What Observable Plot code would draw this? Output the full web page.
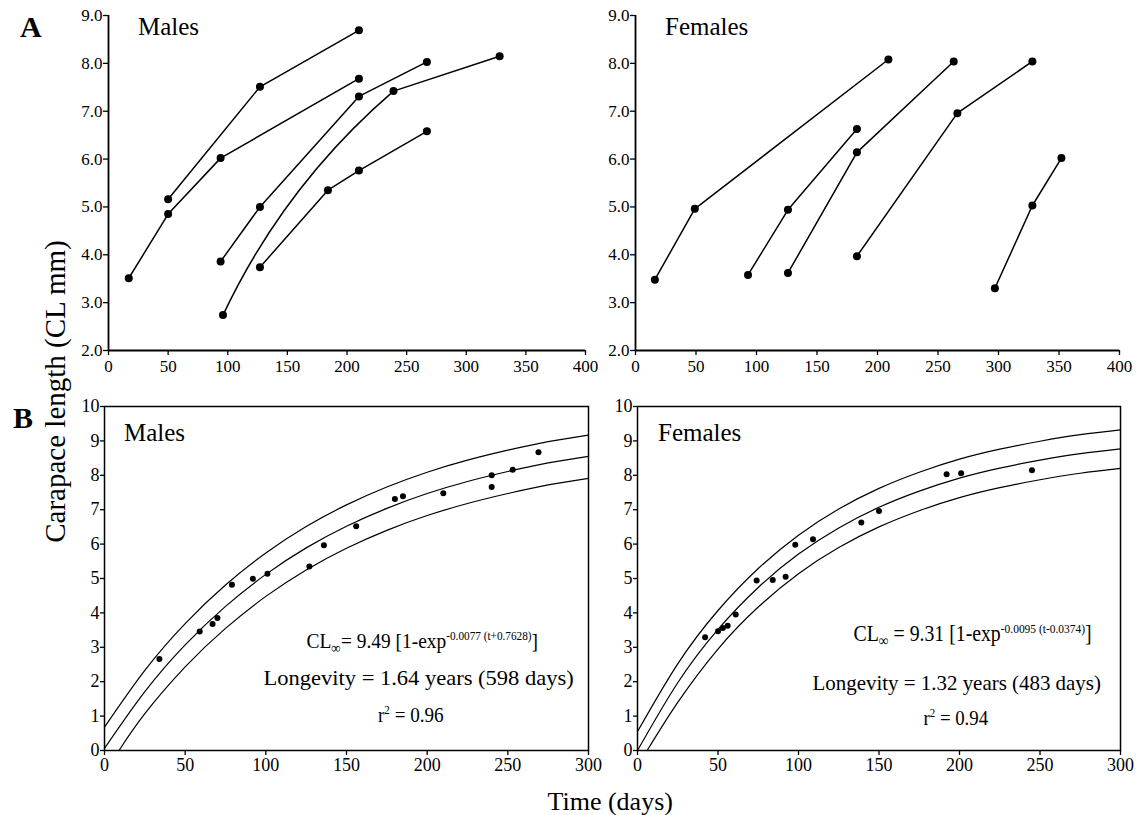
<!DOCTYPE html>
<html><head><meta charset="utf-8">
<script src="https://cdn.jsdelivr.net/npm/d3@7"></script>
<script src="https://cdn.jsdelivr.net/npm/@observablehq/plot@0.6"></script>
<style>
body{margin:0;background:#fff;}
#root{position:relative;width:1142px;height:815px;overflow:hidden;color:#000;background:#fff;}
.abs{position:absolute;white-space:nowrap;line-height:1;}
.abs sup{font-size:0.58em;vertical-align:0.62em;line-height:0;}
.abs sub{font-size:0.7em;vertical-align:-0.3em;line-height:0;}
svg{position:absolute;overflow:visible;}
</style></head><body><div id="root"></div>
<script>
// ---------- Panel A: males (tracks of individuals) ----------
const aMaleTrack = [1,1,1,1, 2,2,2, 3,3,3,3, 4,4,4, 5,5,5,5];
const aMaleDay   = [17,50,94,210, 50,127,210, 94,127,210,267, 96,239,328, 127,184,210,267];
const aMaleCL    = [3.51,4.85,6.02,7.68, 5.16,7.51,8.69, 3.86,5.00,7.31,8.03, 2.74,7.42,8.15, 3.74,5.35,5.76,6.58];
// ---------- Panel A: females ----------
const aFemaleTrack = [1,1,1, 2,2,2, 3,3,3, 4,4,4, 5,5,5];
const aFemaleDay   = [16,49,209, 93,126,183, 126,183,263, 183,266,328, 297,328,352];
const aFemaleCL    = [3.48,4.96,8.08, 3.58,4.94,6.63, 3.62,6.14,8.04, 3.97,6.96,8.04, 3.30,5.03,6.02];
const aXTicks = [0,50,100,150,200,250,300,350,400];
const aYTicks = [2,3,4,5,6,7,8,9];

// ---------- Panel B: males ----------
const bMaleDay = [34,59,67,70,79,92,101,127,136,156,180,185,210,240,240,253,269];
const bMaleCL  = [2.66,3.46,3.68,3.85,4.82,4.99,5.14,5.35,5.97,6.52,7.31,7.39,7.48,8.00,7.66,8.16,8.67];
const bCurveDay   = [0,25,50,75,100,125,150,175,200,225,250,275,300];
const bMaleFit    = [0.06,1.71,3.07,4.19,5.12,5.89,6.52,7.04,7.47,7.82,8.11,8.36,8.55];
const bMaleUpper  = [0.68,2.33,3.69,4.81,5.74,6.51,7.14,7.66,8.09,8.44,8.73,8.98,9.17];
const bMaleLowerDay = [9,25,50,75,100,125,150,175,200,225,250,275,300];
const bMaleLower  = [0,1.07,2.43,3.55,4.48,5.25,5.88,6.40,6.83,7.18,7.47,7.72,7.91];
// ---------- Panel B: females ----------
const bFemaleDay = [42,50,53,56,61,74,84,92,98,109,139,150,192,201,245];
const bFemaleCL  = [3.29,3.47,3.56,3.63,3.95,4.94,4.96,5.05,5.98,6.14,6.63,6.96,8.03,8.06,8.15];
const bFemaleFit   = [0,1.97,3.52,4.74,5.71,6.47,7.07,7.54,7.92,8.21,8.44,8.63,8.77];
const bFemaleUpper = [0.55,2.52,4.07,5.29,6.26,7.02,7.62,8.09,8.47,8.76,8.99,9.18,9.32];
const bFemaleLowerDay = [6,25,50,75,100,125,150,175,200,225,250,275,300];
const bFemaleLower = [0,1.40,2.95,4.17,5.14,5.90,6.50,6.97,7.35,7.64,7.87,8.06,8.20];
const bXTicks = [0,50,100,150,200,250,300];
const bYTicks = [0,1,2,3,4,5,6,7,8,9,10];

// ---------- pick an installed serif font ----------
function hasFont(name) {
  const c = document.createElement('canvas').getContext('2d');
  const s = 'mmmmmmmmmmlliWWwwQq0123456789';
  return ['monospace', 'sans-serif'].some(base => {
    c.font = '40px ' + base; const w0 = c.measureText(s).width;
    c.font = `40px "${name}", ${base}`; const w1 = c.measureText(s).width;
    return Math.abs(w0 - w1) > 0.5;
  });
}
const serifName = ["Liberation Serif", "Tinos", "Times New Roman", "Times", "Nimbus Roman", "DejaVu Serif", "Noto Serif"].find(hasFont);
const FONT = (serifName ? `"${serifName}", ` : "") + "serif";
const root = document.getElementById('root');
root.style.fontFamily = FONT;

const rows = (xs, ys, zs) => xs.map((x, i) => ({x, y: ys[i], z: zs ? zs[i] : 0}));

function panelA(track, day, cl, left, ml, w, mr, bentTrack) {
  const data = rows(day, cl, track);
  // a bent segment (drawn as a curved link) for the first step of one track
  const bentIdx = bentTrack ? track.indexOf(bentTrack) : -1;
  const bent = bentIdx >= 0 ? [{x1: day[bentIdx], y1: cl[bentIdx], x2: day[bentIdx + 1], y2: cl[bentIdx + 1]}] : [];
  const lineData = data.filter((d, i) => i !== bentIdx);
  const svg = Plot.plot({
    width: w, height: 400, marginLeft: ml, marginRight: mr, marginTop: 15, marginBottom: 50,
    style: {fontFamily: FONT, fontSize: "17px", color: "#000", background: "transparent", overflow: "visible"},
    x: {domain: [0, 400]},
    y: {domain: [2, 9]},
    marks: [
      Plot.axisX({ticks: aXTicks, tickSize: 5, tickPadding: 4, label: null, strokeWidth: 1.3}),
      Plot.axisY({ticks: aYTicks, tickSize: 5, tickPadding: 1, tickFormat: d3.format(".1f"), label: null, strokeWidth: 1.3}),
      Plot.ruleX([0], {strokeWidth: 1.8}),
      Plot.ruleY([2], {strokeWidth: 1.8}),
      Plot.line(lineData, {x: "x", y: "y", z: "z", stroke: "#000", strokeWidth: 1.5}),
      Plot.arrow(bent, {x1: "x1", y1: "y1", x2: "x2", y2: "y2", bend: 12, headLength: 0, stroke: "#000", strokeWidth: 1.5}),
      Plot.dot(data, {x: "x", y: "y", r: 4, fill: "#000", stroke: null})
    ]
  });
  svg.style.left = left + "px"; svg.style.top = "0px";
  root.appendChild(svg);
}

function panelB(day, cl, fit, upper, lowerDay, lower, left, ml, w, mr) {
  const svg = Plot.plot({
    width: w, height: 435, marginLeft: ml, marginRight: mr, marginTop: 26, marginBottom: 65,
    style: {fontFamily: FONT, fontSize: "18px", color: "#000", background: "transparent", overflow: "visible"},
    x: {domain: [0, 300]},
    y: {domain: [0, 10]},
    marks: [
      Plot.axisX({ticks: bXTicks, tickSize: 5, tickPadding: 3, label: null, strokeWidth: 1.3}),
      Plot.axisY({ticks: bYTicks, tickSize: 4, tickPadding: 1, label: null, strokeWidth: 1.3}),
      Plot.line(rows(bCurveDay, fit), {x: "x", y: "y", curve: "natural", stroke: "#000", strokeWidth: 1.2}),
      Plot.line(rows(bCurveDay, upper), {x: "x", y: "y", curve: "natural", stroke: "#000", strokeWidth: 1.2}),
      Plot.line(rows(lowerDay, lower), {x: "x", y: "y", curve: "natural", stroke: "#000", strokeWidth: 1.2}),
      Plot.dot(rows(day, cl), {x: "x", y: "y", r: 3, fill: "#000", stroke: null}),
      Plot.frame({stroke: "#000", strokeWidth: 1.5})
    ]
  });
  svg.style.left = left + "px"; svg.style.top = "380px";
  root.appendChild(svg);
}

panelA(aMaleTrack, aMaleDay, aMaleCL, 0, 108, 600, 15, 4);
panelA(aFemaleTrack, aFemaleDay, aFemaleCL, 560, 75, 582, 23, null);
panelB(bMaleDay, bMaleCL, bMaleFit, bMaleUpper, bMaleLowerDay, bMaleLower, 0, 104, 610, 22);
panelB(bFemaleDay, bFemaleCL, bFemaleFit, bFemaleUpper, bFemaleLowerDay, bFemaleLower, 560, 77, 582, 22);

// ---------- text ----------
function place(html, x, cy, size, o = {}) {
  const d = document.createElement('div');
  d.className = 'abs';
  d.innerHTML = html;
  d.style.fontSize = size + 'px';
  if (o.bold) d.style.fontWeight = 'bold';
  root.appendChild(d);
  const w = d.offsetWidth, h = d.offsetHeight;
  const left = o.anchor === 'start' ? x : x - w / 2;
  d.style.left = left + 'px';
  d.style.top = (cy - h / 2) + 'px';
  let t = '';
  if (o.width) { t += `scaleX(${o.width / w})`; d.style.transformOrigin = 'center'; }
  if (o.rotate) { t += ` rotate(${o.rotate}deg)`; }
  if (t) d.style.transform = t;
  return d;
}
place('A', 31, 27, 30, {bold: true});
place('B', 23, 418, 30, {bold: true});
place('Males', 138, 26, 25, {anchor: 'start'});
place('Females', 665, 26, 25, {anchor: 'start'});
place('Males', 124, 432, 25, {anchor: 'start'});
place('Females', 658, 432, 25, {anchor: 'start'});
place('Carapace length (CL mm)', 55, 391, 29, {rotate: -90});
place('Time (days)', 610, 802, 26);

place('CL<sub>∞</sub>= 9.49 [1-exp<sup>-0.0077 (t+0.7628)</sup>]', 422, 641, 22, {width: 232});
place('Longevity = 1.64 years (598 days)', 418, 678, 22, {width: 310});
place('r<sup>2</sup> = 0.96', 411, 715, 22, {width: 66});

place('CL<sub>∞</sub> = 9.31 [1-exp<sup>-0.0095 (t-0.0374)</sup>]', 972, 633, 23, {width: 238});
place('Longevity = 1.32 years (483 days)', 956, 683, 21, {width: 288});
place('r<sup>2</sup> = 0.94', 956, 718, 22, {width: 65});
</script>
</body></html>
